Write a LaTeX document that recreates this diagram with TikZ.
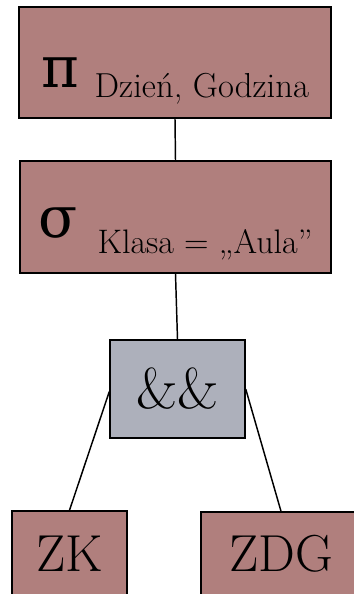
\documentclass[tikz,border=0pt]{standalone}
\usepackage{fontspec}
\newfontfamily\grk{DejaVu Serif}
\definecolor{rose}{RGB}{176,127,125}
\definecolor{slate}{RGB}{173,176,187}
\begin{document}
\begin{tikzpicture}[x=0.75pt,y=-0.75pt,
  box/.style={draw=black,line width=1.1pt,inner sep=0pt,anchor=center,text=black},
  rosebox/.style={box,fill=rose},
  slatebox/.style={box,fill=slate},
  link/.style={draw=black,line width=1.1pt},
  bigf/.style={font=\fontsize{39pt}{43pt}\selectfont}]
\useasboundingbox (0,0) rectangle (354,594);
\clip (0,0) rectangle (354,594);
\node[rosebox,minimum width=234pt,minimum height=83.25pt] (proj) at (175,62.5)
  {\raisebox{-18.4pt}[0pt][0pt]{\fontsize{43pt}{46pt}\selectfont\grk π\hspace{12pt}\raisebox{-7.5pt}{\rmfamily\fontsize{26pt}{28pt}\selectfont Dzień, Godzina}}};
\node[rosebox,minimum width=233.25pt,minimum height=84pt] (sel) at (175.5,217)
  {\raisebox{-15pt}[0pt][0pt]{\fontsize{43pt}{46pt}\selectfont\grk σ\hspace{15pt}\raisebox{-12pt}{\rmfamily\fontsize{25.5pt}{28pt}\selectfont Klasa = „Aula”}}};
\node[slatebox,minimum width=101.25pt,minimum height=73.5pt,font=\fontsize{43pt}{47pt}\selectfont] (join) at (177.5,389) {\&\&};
\node[rosebox,bigf,minimum width=86.25pt,minimum height=64.5pt] (zk) at (69.5,554) {ZK};
\node[rosebox,bigf,minimum width=120pt,minimum height=63pt] (zdg) at (281,554) {ZDG};
\draw[link] (proj.south) -- (sel.north);
\draw[link] (sel.south) -- (join.north);
\draw[link] ([yshift=-2pt]join.west) -- (zk.north);
\draw[link] (join.east) -- (zdg.north);
\end{tikzpicture}
\end{document}
